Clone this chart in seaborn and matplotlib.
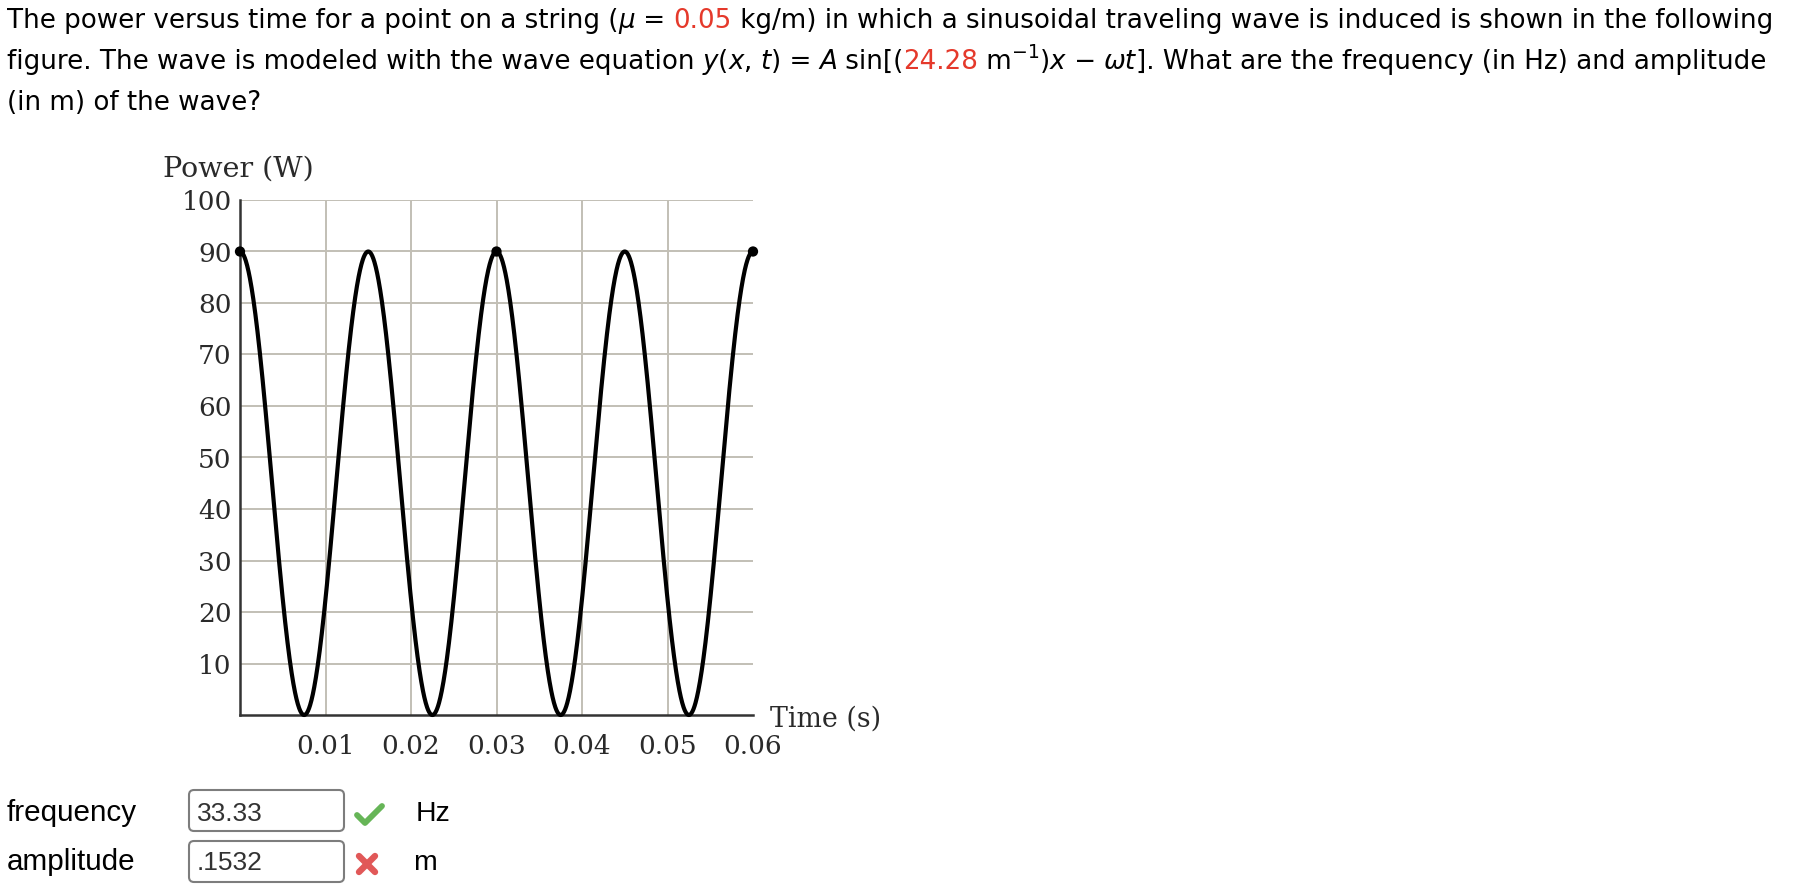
import numpy as np
import pandas as pd
import matplotlib
matplotlib.use("Agg")
import matplotlib.pyplot as plt
import seaborn as sns
from matplotlib.patches import FancyBboxPatch
from matplotlib.lines import Line2D
from matplotlib.transforms import Affine2D

# ---------------- data ----------------
PEAK_POWER_W = 90.0          # maximum of the power curve
POWER_PERIOD_S = 0.015       # time between successive power peaks
TIME_LIMITS = [0.0, 0.06]
POWER_LIMITS = [0, 100]
marked_times = [0.0, 0.03, 0.06]
marked_powers = [90, 90, 90]
x_ticks = [0.01, 0.02, 0.03, 0.04, 0.05, 0.06]
x_tick_labels = ["0.01", "0.02", "0.03", "0.04", "0.05", "0.06"]
y_ticks = [10, 20, 30, 40, 50, 60, 70, 80, 90, 100]
y_tick_labels = ["10", "20", "30", "40", "50", "60", "70", "80", "90", "100"]
x_grid = [0.01, 0.02, 0.03, 0.04, 0.05]
y_grid = [10, 20, 30, 40, 50, 60, 70, 80, 90, 100]
y_label = "Power (W)"
x_label = "Time (s)"
mu_value = "0.05"
k_value = "24.28"
answer_labels = ["frequency", "amplitude"]
answer_values = ["33.33", ".1532"]
answer_units = ["Hz", "m"]
answer_correct = [True, False]

# ---------------- figure ----------------
sns.set_theme(style="white")
plt.rcParams["font.family"] = ["DejaVu Sans"]
W, H = 1796, 888
fig = plt.figure(figsize=(W / 100, H / 100), dpi=100)
fig.patch.set_facecolor("white")
# pixel transform with origin at top-left
px = Affine2D().scale(1 / 100, -1 / 100).translate(0, H / 100) + fig.dpi_scale_trans

AX_L, AX_R, AX_T, AX_B = 240, 753, 200, 715
ax = fig.add_axes([AX_L / W, 1 - AX_B / H, (AX_R - AX_L) / W, (AX_B - AX_T) / H])
ax.set_facecolor("white")

# power curve P(t) = Pmax cos^2(pi t / T_P)
t = np.linspace(TIME_LIMITS[0], TIME_LIMITS[1], 1501)
power = PEAK_POWER_W * np.cos(np.pi * t / POWER_PERIOD_S) ** 2
df = pd.DataFrame({"time": t, "power": power})

GRID_C = "#c2bfb5"
for gx in x_grid:
    ax.axvline(gx, color=GRID_C, lw=1.4, zorder=0)
for gy in y_grid:
    ax.axhline(gy, color=GRID_C, lw=1.4, zorder=0)

sns.lineplot(data=df, x="time", y="power", ax=ax, color="black",
             linewidth=3.0, clip_on=False, zorder=3)
sns.scatterplot(x=marked_times, y=marked_powers, ax=ax, color="black", s=55,
                edgecolor="none", clip_on=False, zorder=4)

ax.set_xlim(*TIME_LIMITS)
ax.set_ylim(*POWER_LIMITS)
SERIF = "DejaVu Serif"
TCOL = "#2a2a2a"
ax.set_xticks(x_ticks, x_tick_labels, fontfamily=SERIF, fontsize=19, color=TCOL)
ax.set_yticks(y_ticks, y_tick_labels, fontfamily=SERIF, fontsize=19, color=TCOL)
ax.set_xlabel("")
ax.set_ylabel("")
for s in ["top", "right"]:
    ax.spines[s].set_visible(False)
for s in ["left", "bottom"]:
    ax.spines[s].set_color("#333333")
    ax.spines[s].set_linewidth(1.8)
ax.tick_params(axis="x", direction="in", length=6, width=1.4, color="#333333", pad=14)
ax.tick_params(axis="y", direction="in", length=3.6, width=1.4, color="#333333", pad=6)

fig.text(163, 177, y_label, transform=px, fontfamily=SERIF, fontsize=20.5,
         color=TCOL, ha="left", va="baseline")
fig.text(770, 727, x_label, transform=px, fontfamily=SERIF, fontsize=19.4,
         color=TCOL, ha="left", va="baseline")

# ---------------- question text ----------------
renderer = fig.canvas.get_renderer()
RED = "#e5392b"


def advance(s, **kw):
    a = fig.text(0, 0, "x" + s + "x", **kw)
    b = fig.text(0, 0, "xx", **kw)
    w = a.get_window_extent(renderer).width - b.get_window_extent(renderer).width
    a.remove()
    b.remove()
    return w


line1 = [("The power versus time for a point on a string (", {}),
         ("\u03bc", {"style": "italic"}),
         (" = ", {}),
         (mu_value, {"color": RED}),
         (" kg/m) in which a sinusoidal traveling wave is induced is shown in the following", {})]
line2 = [("figure. The wave is modeled with the wave equation ", {}),
         ("y", {"style": "italic"}), ("(", {}), ("x", {"style": "italic"}), (", ", {}),
         ("t", {"style": "italic"}), (") = ", {}), ("A", {"style": "italic"}),
         (" sin[(", {}), (k_value, {"color": RED}), (" m", {}),
         ("\u22121", {"sup": True}), (")", {}), ("x", {"style": "italic"}),
         (" \u2212 ", {}), ("\u03c9t", {"style": "italic"}),
         ("]. What are the frequency (in Hz) and amplitude", {})]
line3 = [("(in m) of the wave?", {})]

BASE = 20.0
w1 = sum(advance(s, fontsize=BASE, **{k: v for k, v in o.items() if k != "sup"})
         for s, o in line1)
QSIZE = BASE * 1766 / w1


def draw_line(runs, x0, baseline):
    x = x0
    for s, o in runs:
        kw = {k: v for k, v in o.items() if k != "sup"}
        size = QSIZE
        y = baseline
        if o.get("sup"):
            size = QSIZE * 0.72
            y = baseline - 0.42 * QSIZE * 100 / 72
        kw.setdefault("color", "black")
        fig.text(x, y, s, transform=px, fontsize=size, ha="left", va="baseline", **kw)
        kw.pop("color")
        x += advance(s, fontsize=size, **kw)


draw_line(line1, 7, 27.5)
draw_line(line2, 7, 69)
draw_line(line3, 7, 110)

# ---------------- answer rows ----------------
SANS = "Liberation Sans"
rows_base = [821, 870]
box_tops = [790, 841]
for i in range(2):
    fig.text(7, rows_base[i], answer_labels[i], transform=px, fontfamily=SANS,
             fontsize=21.3, color="black", ha="left", va="baseline")
    box = FancyBboxPatch((189, box_tops[i]), 155, 41,
                         boxstyle="round,pad=0,rounding_size=5", transform=px,
                         facecolor="white", edgecolor="#7d7d7d", linewidth=1.5)
    fig.add_artist(box)
    fig.text(197, rows_base[i], answer_values[i], transform=px, fontfamily=SANS,
             fontsize=19, color="#333333", ha="left", va="baseline")
    unit_x = 416 if i == 0 else 413
    fig.text(unit_x, rows_base[i], answer_units[i], transform=px, fontfamily=SANS,
             fontsize=20.5, color="black", ha="left", va="baseline")
    if answer_correct[i]:
        fig.add_artist(Line2D([357, 365, 382], [815, 823, 806], transform=px,
                              color="#66b557", lw=4.2, solid_capstyle="round",
                              solid_joinstyle="round"))
    else:
        yc = box_tops[i] + 23
        fig.add_artist(Line2D([359, 375], [yc - 8, yc + 8], transform=px,
                              color="#e15858", lw=4.6, solid_capstyle="round"))
        fig.add_artist(Line2D([359, 375], [yc + 8, yc - 8], transform=px,
                              color="#e15858", lw=4.6, solid_capstyle="round"))

fig.savefig("out.png", dpi=100, facecolor="white")
